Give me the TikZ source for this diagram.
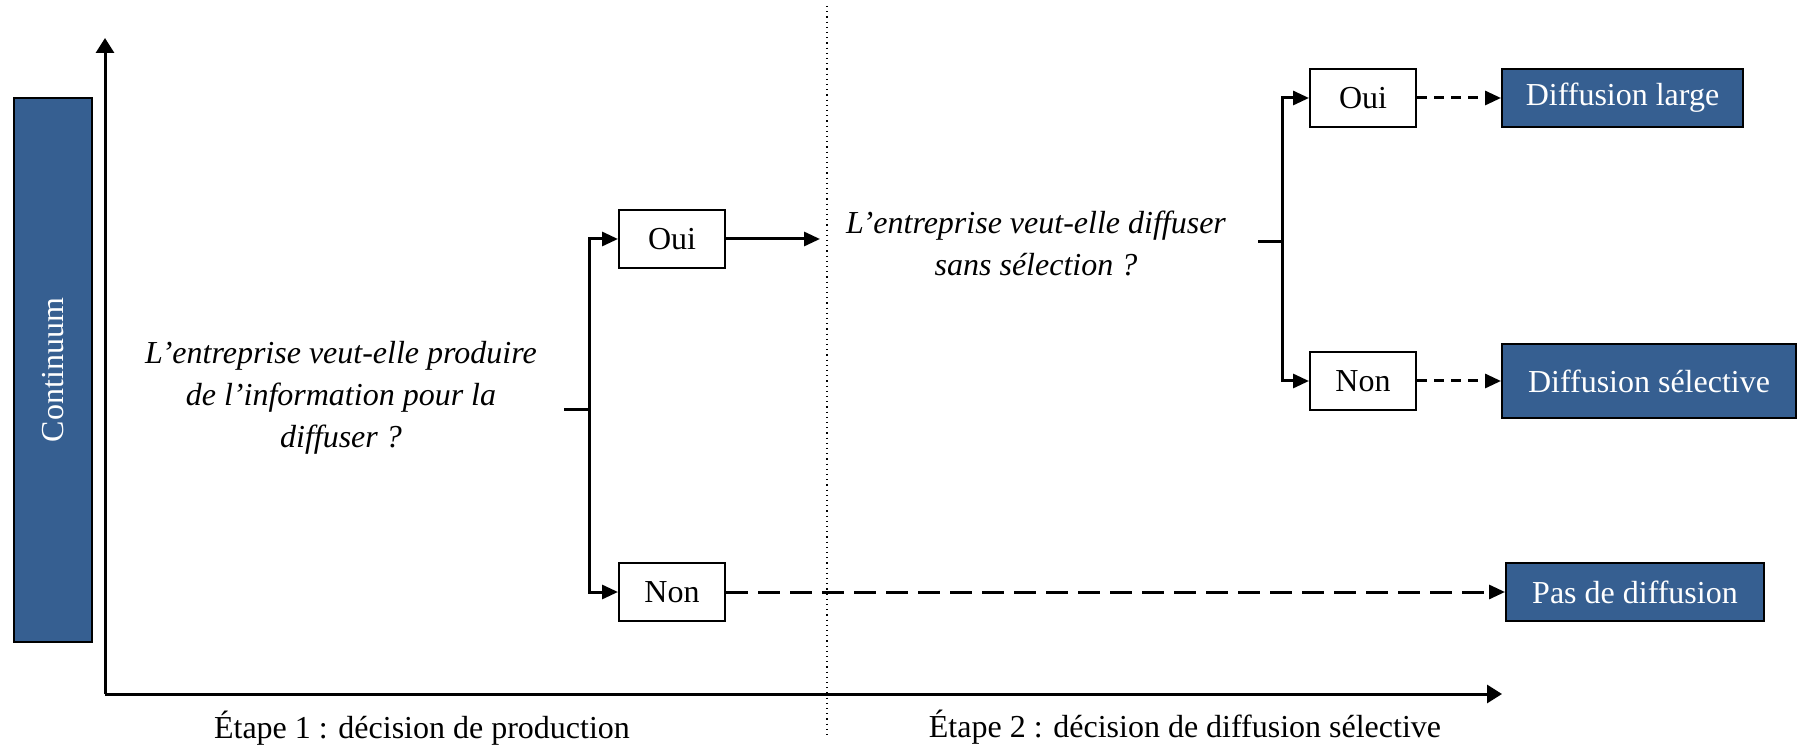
\documentclass[tikz,border=0pt]{standalone}
\usepackage{fontspec}
\setmainfont{Liberation Serif}
\usetikzlibrary{arrows.meta}
\definecolor{boxblue}{HTML}{365F91}
\tikzset{
  choice/.style={draw, line width=1pt, fill=white, minimum width=53pt, minimum height=29pt, inner sep=0pt, font=\fontsize{16}{19}\selectfont},
  outcome/.style={draw, line width=1pt, fill=boxblue, text=white, minimum height=29pt, inner sep=0pt, font=\fontsize{16}{19}\selectfont},
  question/.style={align=center, inner sep=0pt, font=\fontsize{16}{21}\selectfont\itshape},
  stage/.style={inner sep=0pt, font=\fontsize{16}{19}\selectfont},
  link/.style={line width=1.5pt, -{Triangle[length=8pt,width=7pt]}},
  axis/.style={line width=1.5pt, -{Triangle[length=7.5pt,width=9pt]}},
}
\begin{document}
\begin{tikzpicture}[x=0.5pt,y=-0.5pt]
  \useasboundingbox (0,0) rectangle (1798,748);

  % axes and stage separator
  \coordinate (o) at (105,694);
  \coordinate (ytop) at (105,38);
  \coordinate (xend) at (1502,694);
  \coordinate (sep1) at (827,6);
  \coordinate (sep2) at (827,737);
  \draw[axis] (o) -- (ytop);
  \draw[axis] (o) -- (xend);
  \draw[dotted, line width=0.6pt] (sep1) -- (sep2);

  \node[outcome, rotate=90, minimum width=271.5pt, minimum height=39pt] (cont) at (53,370) {Continuum};

  \node[stage] (etape1) at (422,728) {Étape 1 : décision de production};
  \node[stage] (etape2) at (1185,727) {Étape 2 : décision de diffusion sélective};

  % step 1
  \node[question] (q1) at (341,398) {L’entreprise veut-elle produire\\de l’information pour la\\diffuser ?};
  \node[choice] (oui1) at (672,239) {Oui};
  \node[choice] (non1) at (672,592) {Non};
  \coordinate (b1) at (564,410);
  \coordinate (j1) at (589,410);
  \draw[line width=1.5pt] (b1) -- (j1);
  \draw[link] (j1) |- (oui1.west);
  \draw[link] (j1) |- (non1.west);

  % step 2
  \node[question] (q2) at (1036,243) {L’entreprise veut-elle diffuser\\sans sélection ?};
  \coordinate (q2in) at (820,239);
  \draw[link] (oui1.east) -- (q2in);
  \node[choice] (oui2) at (1363,98) {Oui};
  \node[choice] (non2) at (1363,381) {Non};
  \coordinate (b2) at (1258,242);
  \coordinate (j2) at (1282,242);
  \draw[line width=1.5pt] (b2) -- (j2);
  \draw[link] (j2) |- (oui2.west);
  \draw[link] (j2) |- (non2.west);

  % outcomes
  \node[outcome, minimum width=120.5pt] (large) at (1622.5,98) {Diffusion large};
  \node[outcome, minimum width=147pt, minimum height=37pt] (select) at (1649,381) {Diffusion sélective};
  \node[outcome, minimum width=129pt] (none) at (1635,592) {Pas de diffusion};
  \draw[link, dash pattern=on 5pt off 3.5pt] (oui2.east) -- (large.west);
  \draw[link, dash pattern=on 5pt off 3.5pt] (non2.east) -- (select.west);
  \draw[link, dash pattern=on 11pt off 5pt] (non1.east) -- (none.west);
\end{tikzpicture}
\end{document}
